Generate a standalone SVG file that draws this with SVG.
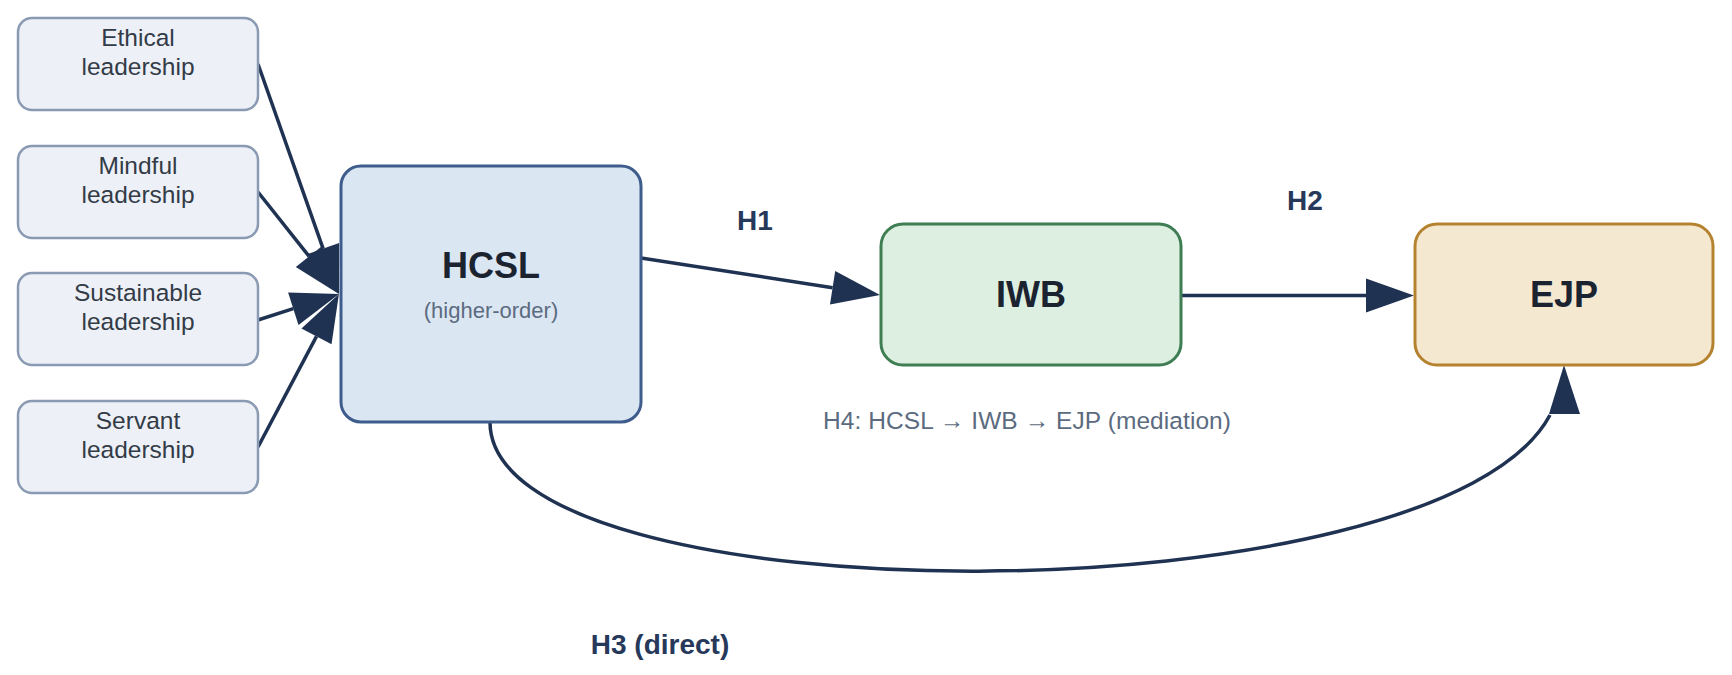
<svg xmlns="http://www.w3.org/2000/svg" width="1732" height="675" viewBox="0 0 1732 675">
<defs>
<style>
.src rect{fill:#edf1f7;stroke:#8a9ab3;stroke-width:2.5}
.src text{font-family:"Liberation Sans",Arial,sans-serif;font-size:24.5px;fill:#333b47;text-anchor:middle}
.big{font-family:"Liberation Sans",Arial,sans-serif;font-size:36px;font-weight:bold;fill:#1b2331;text-anchor:middle}
.sub{font-family:"Liberation Sans",Arial,sans-serif;font-size:22px;fill:#5b6b80;text-anchor:middle}
.lbl{font-family:"Liberation Sans",Arial,sans-serif;font-size:28px;font-weight:bold;fill:#26395a;text-anchor:middle}
.note{font-family:"Liberation Sans",Arial,sans-serif;font-size:24.5px;fill:#5b6b80}
.edge{fill:none;stroke:#1f3251;stroke-width:3.5}
.head{fill:#1f3251}
</style>
<marker id="arr" markerUnits="userSpaceOnUse" markerWidth="50" markerHeight="36" refX="0" refY="17" orient="auto" overflow="visible">
<path d="M0,0 L48,17 L0,34 z" class="head"/>
</marker>
</defs>
<rect width="1732" height="675" fill="#ffffff"/>

<g id="connectors">
<path class="edge" d="M258,64 L323.1,248.7" marker-end="url(#arr)"/>
<path class="edge" d="M258,192 L309.1,256.4" marker-end="url(#arr)"/>
<path class="edge" d="M258,320 L293.3,308.7" marker-end="url(#arr)"/>
<path class="edge" d="M258,447 L316.5,336.4" marker-end="url(#arr)"/>
<path class="edge" d="M641,258 L832.6,287.7" marker-end="url(#arr)"/>
<path class="edge" d="M1181,295.5 L1366,295.5" marker-end="url(#arr)"/>
<path class="edge" d="M490,422 C490,622 1440,622 1550,415"/>
<polygon class="head" points="1564,365 1580,414 1549,414"/>
</g>

<g id="ethical" class="src">
<rect x="18" y="18" width="240" height="92" rx="14"/>
<text x="138" y="46">Ethical</text>
<text x="138" y="75">leadership</text>
</g>
<g id="mindful" class="src">
<rect x="18" y="146" width="240" height="92" rx="14"/>
<text x="138" y="174">Mindful</text>
<text x="138" y="203">leadership</text>
</g>
<g id="sustainable" class="src">
<rect x="18" y="273" width="240" height="92" rx="14"/>
<text x="138" y="301">Sustainable</text>
<text x="138" y="330">leadership</text>
</g>
<g id="servant" class="src">
<rect x="18" y="401" width="240" height="92" rx="14"/>
<text x="138" y="429">Servant</text>
<text x="138" y="458">leadership</text>
</g>

<g id="hcsl">
<rect x="341" y="166" width="300" height="256" rx="20" fill="#dbe6f3" stroke="#3f5d8c" stroke-width="3"/>
<text class="big" x="491" y="278">HCSL</text>
<text class="sub" x="491" y="318">(higher-order)</text>
</g>

<g id="iwb">
<rect x="881" y="224" width="300" height="141" rx="22" fill="#dcefe0" stroke="#3f7d52" stroke-width="3"/>
<text class="big" x="1031" y="307">IWB</text>
</g>

<g id="ejp">
<rect x="1415" y="224" width="298" height="141" rx="22" fill="#f5e8d1" stroke="#b5832f" stroke-width="3"/>
<text class="big" x="1564" y="307">EJP</text>
</g>

<g id="labels">
<text class="lbl" x="755" y="230">H1</text>
<text class="lbl" x="1305" y="210">H2</text>
<text class="lbl" x="660" y="654">H3 (direct)</text>
<text class="note" x="823" y="429" textLength="408" lengthAdjust="spacing">H4: HCSL → IWB → EJP (mediation)</text>
</g>
</svg>
